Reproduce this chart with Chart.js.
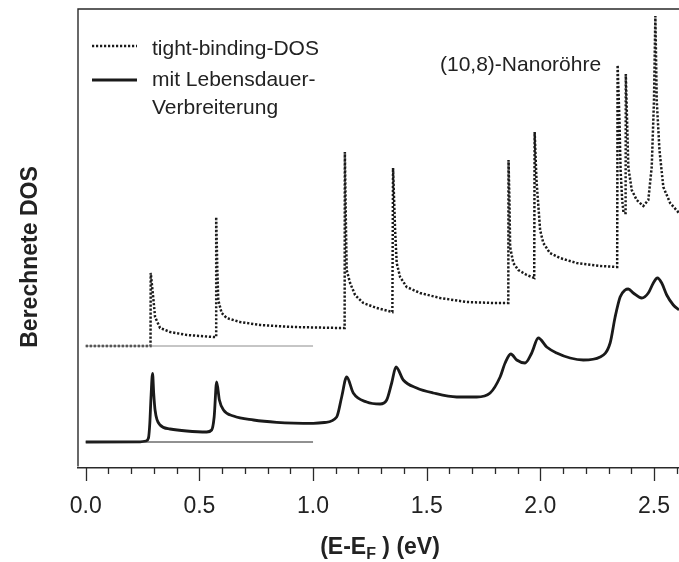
<!doctype html>
<html lang="de">
<head>
    <meta charset="utf-8">
    <title>Berechnete DOS (10,8)-Nanoröhre</title>
    <script src="https://cdn.jsdelivr.net/npm/chart.js"></script>
    <style>
        html, body { margin: 0; padding: 0; background: #fff; }
        #dosChart { display: block; }
    </style>
</head>
<body>
    <canvas id="dosChart" width="679" height="562"></canvas>
    <script>
        // tight-binding DOS (offset upwards), energy in eV
        const tbEnergy = [
            0.000, 0.285, 0.286, 0.298, 0.305, 0.327, 0.371, 0.446, 0.560, 0.574,
            0.574, 0.579, 0.583, 0.598, 0.620, 0.679, 0.767, 0.912, 1.119, 1.139,
            1.140, 1.145, 1.148, 1.163, 1.185, 1.221, 1.280, 1.349, 1.352, 1.361,
            1.368, 1.383, 1.412, 1.471, 1.559, 1.676, 1.793, 1.859, 1.860, 1.864,
            1.867, 1.881, 1.903, 1.940, 1.973, 1.975, 1.983, 1.999, 2.013, 2.042,
            2.086, 2.160, 2.263, 2.338, 2.340, 2.348, 2.353, 2.360, 2.366, 2.375,
            2.376, 2.387, 2.402, 2.424, 2.453, 2.475, 2.490, 2.500, 2.506, 2.512,
            2.524, 2.541, 2.571, 2.610
        ];
        const tbDos = [
            12.2, 12.2, 19.5, 16.8, 15.1, 14.0, 13.6, 13.3, 13.1, 13.1,
            25.1, 19.8, 16.8, 15.5, 15.0, 14.6, 14.3, 14.1, 14.0, 14.0,
            31.6, 23.8, 19.8, 18.5, 17.3, 16.5, 16.0, 15.6, 30.0, 23.8,
            20.5, 19.1, 18.1, 17.5, 17.0, 16.6, 16.5, 16.5, 30.8, 26.8,
            22.1, 20.5, 19.8, 19.3, 19.0, 33.6, 28.8, 23.8, 22.5, 21.5,
            21.0, 20.5, 20.2, 20.1, 40.3, 34.8, 29.8, 26.8, 25.5, 25.5,
            39.4, 30.1, 27.8, 26.8, 26.2, 26.8, 30.1, 36.8, 45.2, 36.8,
            31.8, 28.1, 26.5, 25.5
        ];

        // DOS with lifetime broadening
        const brEnergy = [
            0.000, 0.240, 0.265, 0.276, 0.282, 0.287, 0.294, 0.299, 0.305, 0.327,
            0.371, 0.444, 0.532, 0.554, 0.565, 0.576, 0.588, 0.606, 0.650, 0.738,
            0.840, 1.001, 1.050, 1.104, 1.126, 1.148, 1.177, 1.236, 1.295, 1.324,
            1.346, 1.365, 1.397, 1.456, 1.529, 1.632, 1.720, 1.779, 1.823, 1.845,
            1.870, 1.896, 1.933, 1.962, 1.991, 2.028, 2.072, 2.131, 2.189, 2.263,
            2.307, 2.329, 2.351, 2.373, 2.387, 2.409, 2.446, 2.475, 2.497, 2.515,
            2.534, 2.556, 2.585, 2.610
        ];
        const brDos = [
            2.6, 2.62, 2.7, 3.0, 4.5, 7.0, 9.47, 7.5, 5.8, 4.3,
            3.9, 3.7, 3.6, 3.8, 5.1, 8.6, 6.8, 5.8, 5.2, 4.8,
            4.57, 4.47, 4.55, 5.1, 7.1, 9.1, 7.5, 6.6, 6.4, 6.8,
            8.5, 10.1, 8.8, 8.0, 7.5, 7.1, 7.1, 7.5, 9.1, 10.5,
            11.4, 10.8, 10.5, 11.5, 13.0, 12.1, 11.5, 11.0, 10.8, 11.1,
            12.5, 15.1, 17.1, 17.8, 17.9, 17.5, 17.0, 17.5, 18.5, 19.0,
            18.5, 17.3, 16.3, 15.8
        ];

        // zero lines of both curves, drawn from 0 to 1 eV
        const baseEnergy = [0.0, 1.0];
        const tbBase = [12.2, 12.2];
        const brBase = [2.6, 2.6];

        const majorTicks = [0.0, 0.5, 1.0, 1.5, 2.0, 2.5];
        const minorTicks = [0.1, 0.2, 0.3, 0.4, 0.6, 0.7, 0.8, 0.9, 1.1, 1.2, 1.3, 1.4,
                            1.6, 1.7, 1.8, 1.9, 2.1, 2.2, 2.3, 2.4, 2.6];

        const legendLabels = ['tight-binding-DOS', 'mit Lebensdauer-', 'Verbreiterung'];
        const tubeLabel = '(10,8)-Nanoröhre';
        const yTitle = 'Berechnete DOS';

        const FONT = '"Liberation Sans", Arial, Helvetica, sans-serif';
        const INK = '#1a1a1a';
        const DOTS = [2.2, 1.8];

        const toPoints = (xs, ys) => xs.map((x, i) => ({ x: x, y: ys[i] }));

        // frame, tick marks, legend and text that Chart.js does not draw by itself
        const decor = {
            id: 'decor',
            afterDraw(chart) {
                const { ctx, chartArea: a, scales: { x } } = chart;
                ctx.save();

                ctx.strokeStyle = '#2a2a2a';
                ctx.lineWidth = 1.4;
                ctx.beginPath();
                ctx.moveTo(a.left, a.bottom - 1.5);
                ctx.lineTo(a.left, a.top);
                ctx.lineTo(chart.width, a.top);
                ctx.stroke();

                ctx.lineWidth = 1.3;
                ctx.beginPath();
                majorTicks.forEach(v => {
                    const px = Math.round(x.getPixelForValue(v)) + 0.5;
                    ctx.moveTo(px, a.bottom); ctx.lineTo(px, a.bottom + 13);
                });
                minorTicks.forEach(v => {
                    const px = Math.round(x.getPixelForValue(v)) + 0.5;
                    ctx.moveTo(px, a.bottom); ctx.lineTo(px, a.bottom + 6);
                });
                ctx.stroke();

                // legend
                ctx.strokeStyle = INK;
                ctx.lineWidth = 2.5;
                ctx.setLineDash(DOTS);
                ctx.beginPath(); ctx.moveTo(92, 46); ctx.lineTo(137, 46); ctx.stroke();
                ctx.setLineDash([]);
                ctx.lineWidth = 2.8;
                ctx.beginPath(); ctx.moveTo(92, 80); ctx.lineTo(137, 80); ctx.stroke();

                ctx.fillStyle = '#222';
                ctx.font = '21px ' + FONT;
                ctx.textAlign = 'left';
                ctx.textBaseline = 'alphabetic';
                ctx.fillText(legendLabels[0], 152, 55);
                ctx.fillText(legendLabels[1], 152, 86);
                ctx.fillText(legendLabels[2], 152, 114);
                ctx.fillText(tubeLabel, 440, 71);

                // x axis title with subscript F
                ctx.font = 'bold 23px ' + FONT;
                const partA = '(E-E', partB = 'F', partC = ' ) (eV)';
                const wA = ctx.measureText(partA).width;
                const wC = ctx.measureText(partC).width;
                ctx.font = 'bold 16px ' + FONT;
                const wB = ctx.measureText(partB).width;
                let tx = 380 - (wA + wB + wC) / 2;
                const ty = 554;
                ctx.font = 'bold 23px ' + FONT;
                ctx.fillText(partA, tx, ty); tx += wA;
                ctx.font = 'bold 16px ' + FONT;
                ctx.fillText(partB, tx, ty + 5); tx += wB;
                ctx.font = 'bold 23px ' + FONT;
                ctx.fillText(partC, tx, ty);

                // y axis title
                ctx.translate(31, 257);
                ctx.rotate(-Math.PI / 2);
                ctx.textAlign = 'center';
                ctx.textBaseline = 'middle';
                ctx.font = 'bold 23px ' + FONT;
                ctx.fillText(yTitle, 0, 0);

                ctx.restore();
            }
        };

        new Chart(document.getElementById('dosChart'), {
            type: 'line',
            data: {
                datasets: [
                    {
                        data: toPoints(baseEnergy, tbBase),
                        borderColor: '#8c8c8c', borderWidth: 1, pointRadius: 0
                    },
                    {
                        data: toPoints(baseEnergy, brBase),
                        borderColor: '#222', borderWidth: 1, pointRadius: 0
                    },
                    {
                        label: legendLabels[0],
                        data: toPoints(tbEnergy, tbDos),
                        borderColor: INK, borderWidth: 2.5, borderDash: DOTS,
                        pointRadius: 0, tension: 0
                    },
                    {
                        label: legendLabels[1] + legendLabels[2],
                        data: toPoints(brEnergy, brDos),
                        borderColor: INK, borderWidth: 2.8,
                        pointRadius: 0, cubicInterpolationMode: 'monotone'
                    }
                ]
            },
            options: {
                responsive: false,
                animation: false,
                events: [],
                layout: { padding: { left: 78, top: 9, right: 0, bottom: 0 } },
                plugins: { legend: { display: false }, tooltip: { enabled: false } },
                scales: {
                    x: {
                        type: 'linear',
                        min: -0.034,
                        max: 2.61,
                        afterBuildTicks: (scale) => { scale.ticks = majorTicks.map(v => ({ value: v })); },
                        afterFit: (scale) => {
                            scale.height = 94;
                            scale.paddingLeft = 0;
                            scale.paddingRight = 0;
                        },
                        grid: { display: false, drawTicks: false },
                        border: { display: true, color: '#2a2a2a', width: 1.4 },
                        ticks: {
                            padding: 25,
                            color: '#222',
                            font: { family: FONT, size: 23 },
                            callback: (v) => Number(v).toFixed(1)
                        }
                    },
                    y: {
                        display: false,
                        min: 0,
                        max: 45.9
                    }
                }
            },
            plugins: [decor]
        });
    </script>
</body>
</html>
